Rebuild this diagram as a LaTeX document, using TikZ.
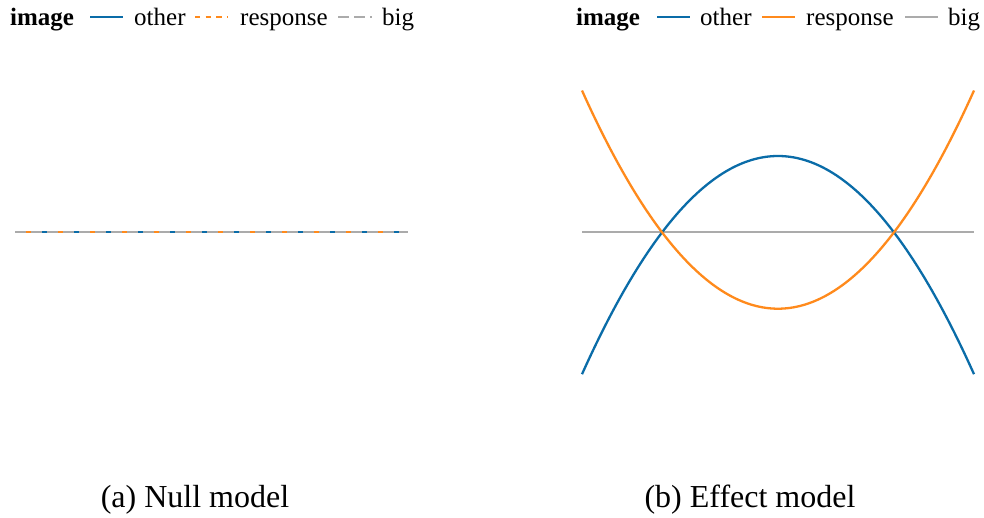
\documentclass[tikz,border=0pt]{standalone}
\usepackage{fontspec}
\setmainfont{Liberation Serif}
\definecolor{cblue}{HTML}{0A6CA8}
\definecolor{corange}{HTML}{FF8A1C}
\definecolor{cgray}{HTML}{ABABAB}
\tikzset{
  curve/.style={line width=2.3pt},
  orangedash/.style={dash pattern=on 5.33pt off 5.33pt},
  graydash/.style={dash pattern=on 11pt off 5pt},
  legtxt/.style={anchor=base west, inner sep=0pt, font=\fontsize{25}{29}\selectfont},
  captxt/.style={anchor=base, inner sep=0pt, font=\fontsize{32}{38}\selectfont},
}
\begin{document}
\begin{tikzpicture}[x=1pt,y=-1pt]
\useasboundingbox (0,0) rectangle (984,517);

% ---- legend, left panel ----
\node[legtxt] (lt) at (10,25) {\textbf{image}};
\draw[curve, cblue] (90,17) -- (123,17);
\node[legtxt] (lo) at (134,25) {other};
\draw[curve, corange, orangedash] (195,17) -- (228,17);
\node[legtxt] (lr) at (240,25) {response};
\draw[curve, cgray, graydash] (338,17) -- (372,17);
\node[legtxt] (lb) at (382,25) {big};

% ---- legend, right panel ----
\node[legtxt] (rt) at (576,25) {\textbf{image}};
\draw[curve, cblue] (657,17) -- (690,17);
\node[legtxt] (ro) at (700,25) {other};
\draw[curve, corange] (762,17) -- (795,17);
\node[legtxt] (rr) at (806,25) {response};
\draw[curve, cgray] (905,17) -- (938,17);
\node[legtxt] (rb) at (948,25) {big};

% ---- null model: all three curves coincide ----
\draw[curve, cblue] (15,232.3) -- (408,232.3);
\draw[curve, corange, orangedash] (15,232.3) -- (408,232.3);
\draw[curve, cgray, graydash] (15,232.3) -- (408,232.3);

% ---- effect model ----
\draw[curve, cgray] (582,232.3) -- (974,232.3);
\draw[curve, cblue] (582,374.2) .. controls (712.67,83.27) and (843.33,83.27) .. (974,374.2);
\draw[curve, corange] (582,90.5) .. controls (712.67,381.43) and (843.33,381.43) .. (974,90.5);

% ---- captions ----
\node[captxt] (ca) at (195,507) {(a) Null model};
\node[captxt] (cb) at (750,507) {(b) Effect model};
\end{tikzpicture}
\end{document}
